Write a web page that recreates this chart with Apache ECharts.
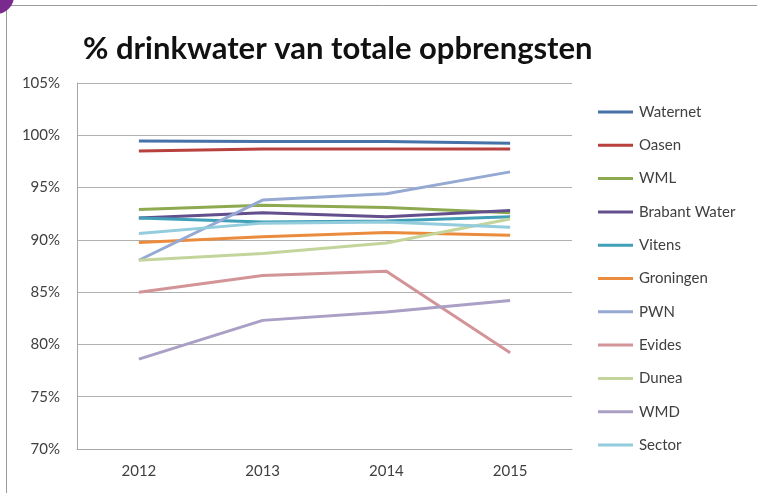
<!DOCTYPE html>
<html>
<head>
<meta charset="utf-8">
<script src="https://cdn.jsdelivr.net/npm/echarts@6/dist/echarts.min.js"></script>
<style>html,body{margin:0;padding:0;background:#fff}#c{width:757px;height:493px}</style>
</head>
<body>
<div id="c"></div>
<script>
const years = ['2012', '2013', '2014', '2015'];
const seriesNames = ['Waternet', 'Oasen', 'WML', 'Brabant Water', 'Vitens', 'Groningen', 'PWN', 'Evides', 'Dunea', 'WMD', 'Sector'];
const waternet = [99.45, 99.4, 99.4, 99.25];
const oasen = [98.5, 98.7, 98.7, 98.7];
const wml = [92.9, 93.3, 93.1, 92.6];
const brabant = [92.1, 92.6, 92.2, 92.8];
const vitens = [92.1, 91.7, 91.8, 92.2];
const groningen = [89.75, 90.3, 90.7, 90.45];
const pwn = [88.05, 93.8, 94.4, 96.5];
const evides = [85.0, 86.6, 87.0, 79.2];
const dunea = [88.05, 88.7, 89.7, 92.0];
const wmd = [78.6, 82.3, 83.1, 84.2];
const sector = [90.6, 91.6, 91.7, 91.2];
const yTicks = [70, 75, 80, 85, 90, 95, 100, 105];

const allData = [waternet, oasen, wml, brabant, vitens, groningen, pwn, evides, dunea, wmd, sector];
const colors = ['#4672A8', '#B8403D', '#8EAA50', '#634F8C', '#3FA0B8', '#EB8B3E', '#95A9D3', '#D39497', '#C3D59B', '#AA9FC4', '#93CDDD'];

const chart = echarts.init(document.getElementById('c'));
chart.setOption({
  animation: false,
  backgroundColor: '#fff',
  color: colors,
  title: {
    text: '% drinkwater van totale opbrengsten',
    left: 78, top: 28,
    textStyle: {fontFamily: 'Lato', fontWeight: 'bold', fontSize: 31, color: '#111'}
  },
  graphic: [
    {type: 'rect', shape: {x: 6.5, y: 5.5, width: 760, height: 500}, style: {fill: 'none', stroke: '#9a9a9a', lineWidth: 1}},
    {type: 'circle', shape: {cx: -4, cy: -4, r: 18}, style: {fill: '#7a2a8c'}}
  ],
  grid: {left: 77, right: 185, top: 83, bottom: 44},
  legend: {
    orient: 'vertical', left: 598, top: 104, padding: 0,
    icon: 'rect', itemWidth: 35, itemHeight: 3, itemGap: 17.3,
    textStyle: {fontFamily: 'Lato', fontSize: 15, color: '#404040', lineHeight: 16, padding: [0, 0, 0, 1]},
    data: seriesNames
  },
  xAxis: {
    type: 'category', data: years, boundaryGap: true,
    axisLine: {lineStyle: {color: '#a6a6a6'}},
    axisTick: {show: false},
    axisLabel: {fontFamily: 'Lato', fontSize: 15, color: '#404040', margin: 15}
  },
  yAxis: {
    type: 'value', min: yTicks[0], max: yTicks[yTicks.length - 1], interval: 5,
    axisLine: {show: true, lineStyle: {color: '#a6a6a6'}},
    axisTick: {show: false},
    splitLine: {lineStyle: {color: '#b0b0b0'}},
    axisLabel: {fontFamily: 'Lato', fontSize: 15, color: '#404040', margin: 17, formatter: '{value}%'}
  },
  series: seriesNames.map((n, i) => ({
    name: n, type: 'line', data: allData[i], showSymbol: false, symbol: 'none',
    lineStyle: {width: 3}
  }))
});
</script>
</body>
</html>
